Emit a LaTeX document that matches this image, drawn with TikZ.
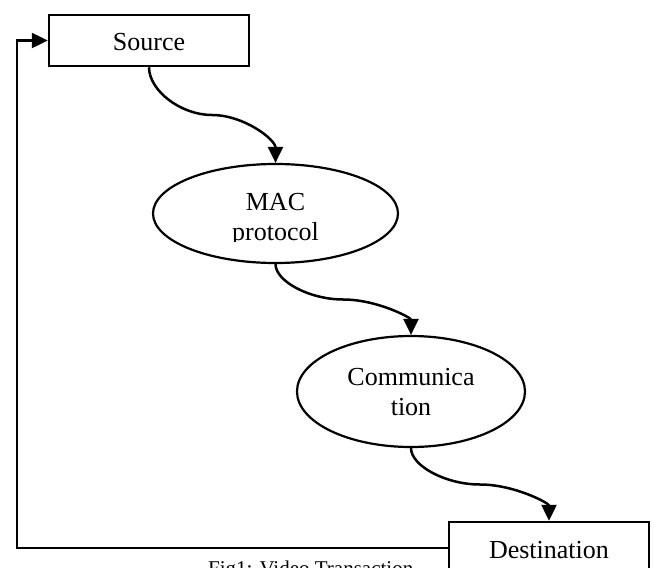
\documentclass[tikz,border=0pt]{standalone}
\usepackage{fontspec}
\setmainfont{Liberation Serif}
\usetikzlibrary{shapes.geometric,arrows.meta}
\begin{document}
\begin{tikzpicture}[x=1pt,y=-1pt,
  boxnode/.style={draw, rectangle, minimum width=200pt, inner sep=0pt, line width=2.5pt},
  ellnode/.style={draw, ellipse, inner sep=0pt, line width=2.2pt},
  lbl/.style={font=\fontsize{26}{30}\selectfont, inner sep=0pt},
  captxt/.style={font=\fontsize{21}{25}\selectfont, inner sep=0pt},
  conn/.style={line width=2.5pt, -{Triangle[length=16pt,width=15pt]}}]
\useasboundingbox (0,0) rectangle (654,568);
\clip (0,0) rectangle (654,568);
\fill[white] (0,0) rectangle (654,568);
% nodes
\node[boxnode, minimum height=51pt] (src) at (149,40.5) {};
\node[boxnode, minimum height=52pt] (dst) at (549,548) {};
\node[ellnode, minimum width=245pt, minimum height=99pt] (mac) at (275.5,213.5) {};
\node[ellnode, minimum width=228pt, minimum height=111pt] (com) at (411,391.5) {};
% labels
\node[lbl, anchor=base] (srcT) at (149,50) {Source};
\node[lbl, anchor=base] (dstT) at (549,558) {Destination};
\node[lbl, anchor=base] (macA) at (275.5,210) {MAC};
\begin{scope}
\clip (150,215) rectangle (400,241.5);
\node[lbl, anchor=base] (macB) at (275.5,240) {protocol};
\end{scope}
\node[lbl, anchor=base] (comA) at (411,385) {Communica};
\node[lbl, anchor=base] (comB) at (411,415) {tion};
\node[captxt, anchor=base west] (capT) at (208,575) {Fig1: Video Transaction};
% connectors
\draw[conn] (src.south) .. controls (149,90.5) and (180.6,115) .. (212,115)
  .. controls (243.9,115) and (275.5,139.5) .. (mac.north);
\draw[conn] (mac.south) .. controls (275.5,281.25) and (309.4,299.5) .. (343.25,299.5)
  .. controls (377.1,299.5) and (411,317.75) .. (com.north);
\draw[conn] (com.south) .. controls (411,465.75) and (445.5,484.5) .. (480,484.5)
  .. controls (514.5,484.5) and (549,503.25) .. (dst.north);
\coordinate (lc) at (17,548);
\draw[conn] (dst.west) -- (lc) |- (src.west);
\end{tikzpicture}
\end{document}
